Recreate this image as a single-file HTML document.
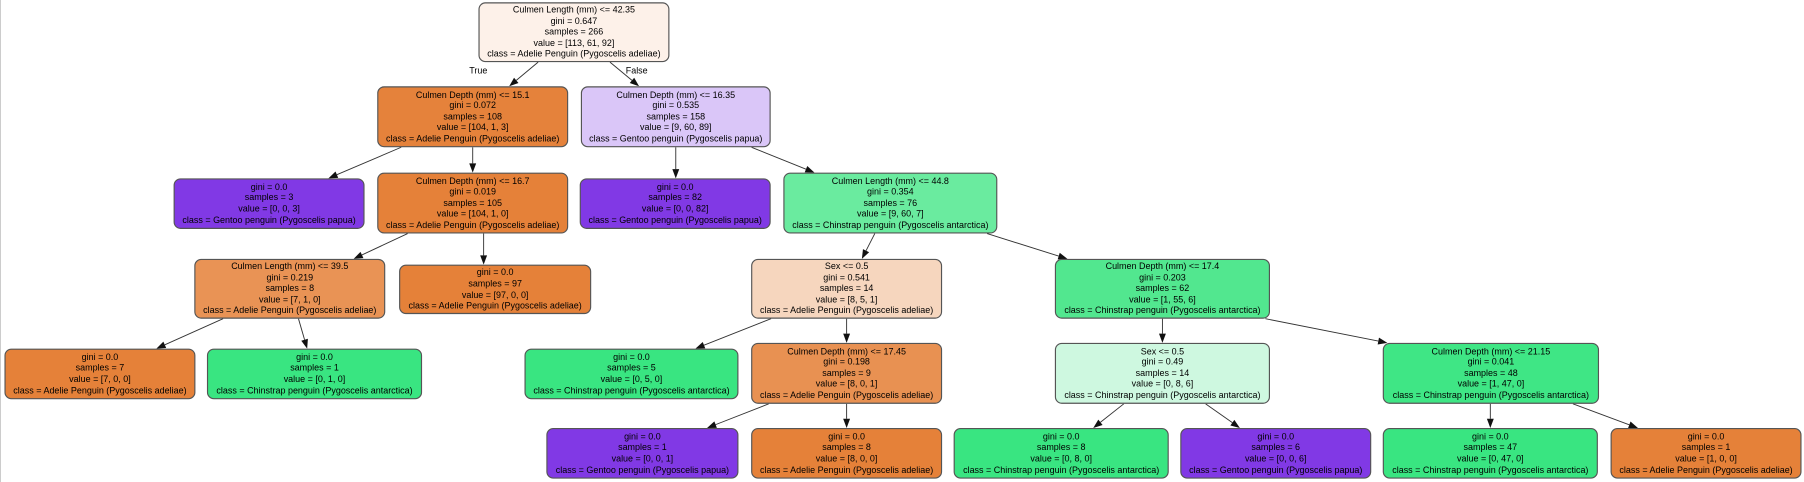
<!DOCTYPE html>
<html><head><meta charset="utf-8"><style>
html,body{margin:0;padding:0;background:#fff;}
#wrap{position:relative;width:1804px;height:482px;overflow:hidden;border-left:1px solid #ccc;box-sizing:border-box;}
#s{position:absolute;left:0;top:0;width:1568px;height:419px;transform:scale(1.1505);transform-origin:0 0;}
.n{position:absolute;box-sizing:border-box;border:1px solid #555;border-radius:6px;font-family:"Liberation Sans",sans-serif;font-size:7.8px;line-height:9.6px;text-align:center;color:#000;display:flex;flex-direction:column;justify-content:center;white-space:nowrap;}
.l{position:absolute;font-family:"Liberation Sans",sans-serif;font-size:7.8px;}
svg{position:absolute;left:0;top:0;}
</style></head><body><div id="wrap"><div id="s">
<svg id="g" width="1568" height="419"></svg>
<div class="l" style="left:407px;top:57px">True</div>
<div class="l" style="left:543px;top:57px">False</div>
<div class="n" style="left:415px;top:2px;width:166px;height:52px;background:#fdf1e9">Culmen Length (mm) &lt;= 42.35<br>gini = 0.647<br>samples = 266<br>value = [113, 61, 92]<br>class = Adelie Penguin (Pygoscelis adeliae)</div>
<div class="n" style="left:327px;top:75px;width:166px;height:53px;background:#e5823b">Culmen Depth (mm) &lt;= 15.1<br>gini = 0.072<br>samples = 108<br>value = [104, 1, 3]<br>class = Adelie Penguin (Pygoscelis adeliae)</div>
<div class="n" style="left:504px;top:75px;width:165px;height:53px;background:#dac6f8">Culmen Depth (mm) &lt;= 16.35<br>gini = 0.535<br>samples = 158<br>value = [9, 60, 89]<br>class = Gentoo penguin (Pygoscelis papua)</div>
<div class="n" style="left:150px;top:155px;width:166px;height:44px;background:#8139e5">gini = 0.0<br>samples = 3<br>value = [0, 0, 3]<br>class = Gentoo penguin (Pygoscelis papua)</div>
<div class="n" style="left:327px;top:150px;width:166px;height:53px;background:#e58139">Culmen Depth (mm) &lt;= 16.7<br>gini = 0.019<br>samples = 105<br>value = [104, 1, 0]<br>class = Adelie Penguin (Pygoscelis adeliae)</div>
<div class="n" style="left:503px;top:155px;width:166px;height:44px;background:#8139e5">gini = 0.0<br>samples = 82<br>value = [0, 0, 82]<br>class = Gentoo penguin (Pygoscelis papua)</div>
<div class="n" style="left:680px;top:150px;width:186px;height:53px;background:#6aeb9f">Culmen Length (mm) &lt;= 44.8<br>gini = 0.354<br>samples = 76<br>value = [9, 60, 7]<br>class = Chinstrap penguin (Pygoscelis antarctica)</div>
<div class="n" style="left:168px;top:225px;width:166px;height:52px;background:#e99355">Culmen Length (mm) &lt;= 39.5<br>gini = 0.219<br>samples = 8<br>value = [7, 1, 0]<br>class = Adelie Penguin (Pygoscelis adeliae)</div>
<div class="n" style="left:346px;top:230px;width:167px;height:43px;background:#e58139">gini = 0.0<br>samples = 97<br>value = [97, 0, 0]<br>class = Adelie Penguin (Pygoscelis adeliae)</div>
<div class="n" style="left:652px;top:225px;width:166px;height:52px;background:#f6d6be">Sex &lt;= 0.5<br>gini = 0.541<br>samples = 14<br>value = [8, 5, 1]<br>class = Adelie Penguin (Pygoscelis adeliae)</div>
<div class="n" style="left:916px;top:225px;width:187px;height:52px;background:#52e78f">Culmen Depth (mm) &lt;= 17.4<br>gini = 0.203<br>samples = 62<br>value = [1, 55, 6]<br>class = Chinstrap penguin (Pygoscelis antarctica)</div>
<div class="n" style="left:3px;top:303px;width:166px;height:44px;background:#e58139">gini = 0.0<br>samples = 7<br>value = [7, 0, 0]<br>class = Adelie Penguin (Pygoscelis adeliae)</div>
<div class="n" style="left:179px;top:303px;width:187px;height:44px;background:#39e581">gini = 0.0<br>samples = 1<br>value = [0, 1, 0]<br>class = Chinstrap penguin (Pygoscelis antarctica)</div>
<div class="n" style="left:455px;top:303px;width:186px;height:44px;background:#39e581">gini = 0.0<br>samples = 5<br>value = [0, 5, 0]<br>class = Chinstrap penguin (Pygoscelis antarctica)</div>
<div class="n" style="left:652px;top:298px;width:166px;height:53px;background:#e89152">Culmen Depth (mm) &lt;= 17.45<br>gini = 0.198<br>samples = 9<br>value = [8, 0, 1]<br>class = Adelie Penguin (Pygoscelis adeliae)</div>
<div class="n" style="left:916px;top:298px;width:187px;height:53px;background:#cef8e0">Sex &lt;= 0.5<br>gini = 0.49<br>samples = 14<br>value = [0, 8, 6]<br>class = Chinstrap penguin (Pygoscelis antarctica)</div>
<div class="n" style="left:1201px;top:298px;width:188px;height:53px;background:#3fe685">Culmen Depth (mm) &lt;= 21.15<br>gini = 0.041<br>samples = 48<br>value = [1, 47, 0]<br>class = Chinstrap penguin (Pygoscelis antarctica)</div>
<div class="n" style="left:474px;top:372px;width:167px;height:44px;background:#8139e5">gini = 0.0<br>samples = 1<br>value = [0, 0, 1]<br>class = Gentoo penguin (Pygoscelis papua)</div>
<div class="n" style="left:652px;top:372px;width:166px;height:44px;background:#e58139">gini = 0.0<br>samples = 8<br>value = [8, 0, 0]<br>class = Adelie Penguin (Pygoscelis adeliae)</div>
<div class="n" style="left:828px;top:372px;width:187px;height:44px;background:#39e581">gini = 0.0<br>samples = 8<br>value = [0, 8, 0]<br>class = Chinstrap penguin (Pygoscelis antarctica)</div>
<div class="n" style="left:1025px;top:372px;width:166px;height:44px;background:#8139e5">gini = 0.0<br>samples = 6<br>value = [0, 0, 6]<br>class = Gentoo penguin (Pygoscelis papua)</div>
<div class="n" style="left:1201px;top:372px;width:187px;height:44px;background:#39e581">gini = 0.0<br>samples = 47<br>value = [0, 47, 0]<br>class = Chinstrap penguin (Pygoscelis antarctica)</div>
<div class="n" style="left:1399px;top:372px;width:166px;height:44px;background:#e58139">gini = 0.0<br>samples = 1<br>value = [1, 0, 0]<br>class = Adelie Penguin (Pygoscelis adeliae)</div>
</div></div>
<script>
var N=[[415,581,2,54],[327,493,75,128],[504,669,75,128],[150,316,155,199],[327,493,150,203],[503,669,155,199],[680,866,150,203],[168,334,225,277],[346,513,230,273],[652,818,225,277],[916,1103,225,277],[3,169,303,347],[179,366,303,347],[455,641,303,347],[652,818,298,351],[916,1103,298,351],[1201,1389,298,351],[474,641,372,416],[652,818,372,416],[828,1015,372,416],[1025,1191,372,416],[1201,1388,372,416],[1399,1565,372,416]];
var E=[[0,1],[0,2],[1,3],[1,4],[2,5],[2,6],[4,7],[4,8],[6,9],[6,10],[7,11],[7,12],[9,13],[9,14],[10,15],[10,16],[14,17],[14,18],[15,19],[15,20],[16,21],[16,22]];
function cl(v,a,b){return Math.max(a+4,Math.min(b-4,v));}
var s='';
E.forEach(function(e){var p=N[e[0]],c=N[e[1]];
var px=(p[0]+p[1])/2,py=(p[2]+p[3])/2,cx=(c[0]+c[1])/2,cy=(c[2]+c[3])/2;
if(Math.abs(px-cx)<20){var ox=Math.max(p[0],c[0]),oe=Math.min(p[1],c[1]);px=cx=(ox+oe)/2;}
var dx=cx-px,dy=cy-py;
var t1=((p[3]-py)/dy), t2=((c[2]-cy)/dy);
var x1=cl(px+dx*t1,p[0],p[1]),y1=p[3],x2=cl(cx+dx*t2,c[0],c[1]),y2=c[2];
var L=Math.hypot(x2-x1,y2-y1),ux=(x2-x1)/L,uy=(y2-y1)/L;
var bx=x2-ux*8,by=y2-uy*8;
s+='<line x1="'+x1+'" y1="'+y1+'" x2="'+bx+'" y2="'+by+'" stroke="#333" stroke-width="0.8"/>';
s+='<polygon points="'+x2+','+y2+' '+(bx-uy*3)+','+(by+ux*3)+' '+(bx+uy*3)+','+(by-ux*3)+'" fill="#111"/>';
});
document.getElementById('g').innerHTML=s;
</script>
</body></html>
